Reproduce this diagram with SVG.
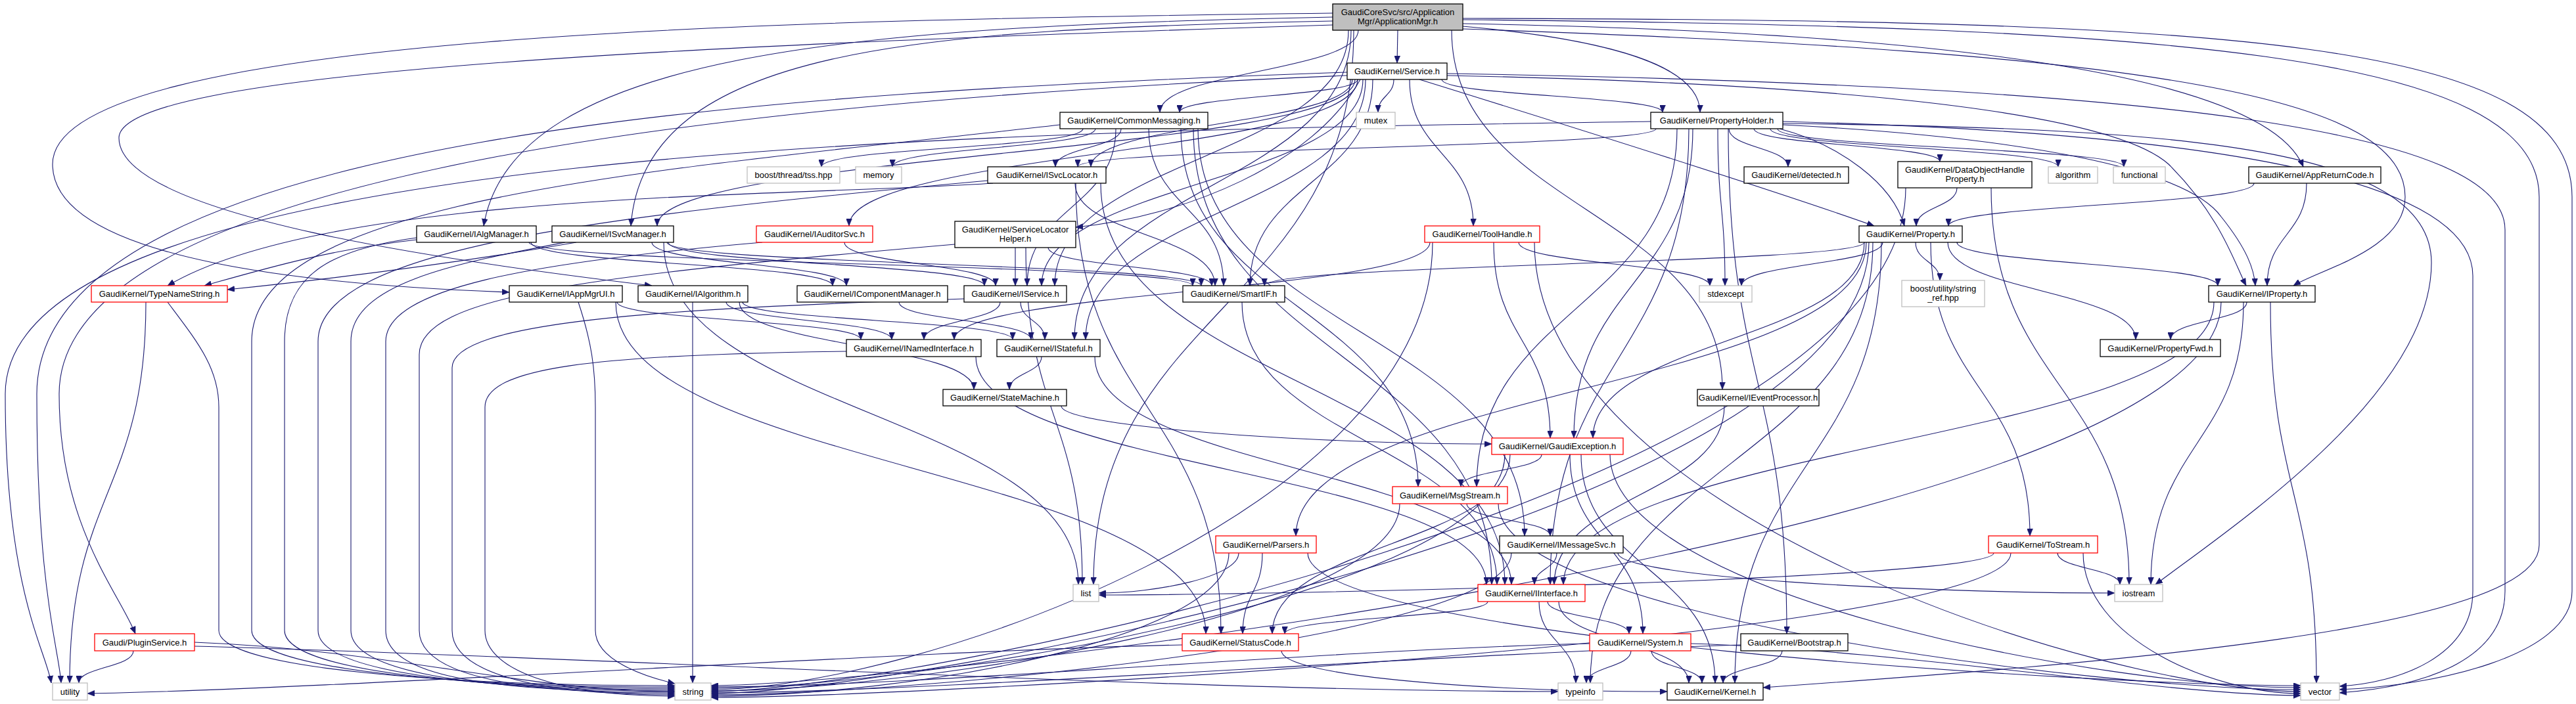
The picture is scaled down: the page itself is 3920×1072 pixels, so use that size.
<svg xmlns="http://www.w3.org/2000/svg" width="3920" height="1072" viewBox="0 0 3920 1072">
<style>
.n rect{fill:#fff;stroke:#000;stroke-width:1.3}
.n.r rect{stroke:#f00}
.n.g rect{stroke:#bfbfbf}
.n.root rect{fill:#bfbfbf}
.n text{font-family:"Liberation Sans",Arial,Helvetica,sans-serif;font-size:13px;text-anchor:middle;fill:#000}
.e path{fill:none;stroke:#191970;stroke-width:1.1;marker-end:url(#a)}
</style>
<defs>
<marker id="a" viewBox="0 0 11 9" refX="11" refY="4.5" markerWidth="11" markerHeight="9" markerUnits="userSpaceOnUse" orient="auto"><path d="M0,0 L11,4.5 L0,9 z" fill="#191970" stroke="#191970" stroke-width="0.5"/></marker>
</defs>
<rect width="3920" height="1072" fill="#fff"/>
<g id="edges" class="e">
<path d="M2127,46 L2126,96"/>
<path d="M2067,46 C2067,108 1765,109 1765,171"/>
<path d="M2226,40 C2450,60 2587,100 2587,171"/>
<path d="M2226,36 C3000,50 3450,120 3505,254"/>
<path d="M2028,26 C1300,40 780,80 736,344"/>
<path d="M2028,32 C1400,45 980,70 960,344"/>
<path d="M2028,20 C1200,30 80,50 80,250 C80,400 500,435 775,445"/>
<path d="M2028,38 C1000,70 181,110 181,210 C181,330 700,400 992,435"/>
<path d="M2052,46 C2052,240 1605,240 1605,435"/>
<path d="M2226,44 C3300,80 3660,150 3660,300 C3660,380 3530,410 3490,435"/>
<path d="M2056,46 C2056,282 1635,282 1635,517"/>
<path d="M2209,46 C2209,320 2621,320 2621,593"/>
<path d="M2060,46 C2060,468 1664,468 1664,890"/>
<path d="M2226,30 C3300,40 3864,80 3864,300 L3864,830 C3864,960 3200,1010 2683,1047"/>
<path d="M2226,28 C3400,30 3914,60 3914,300 L3914,900 C3914,1000 3700,1045 3560,1050"/>
<path d="M2066,121 C2066,146 1795,146 1795,171"/>
<path d="M2121,121 C2121,146 2097,146 2097,171"/>
<path d="M2194,121 C2194,146 2530,146 2530,171"/>
<path d="M2058,121 C2058,188 1660,188 1660,254"/>
<path d="M2062,121 C2062,233 1000,233 1000,344"/>
<path d="M2066,121 C2066,233 1292,233 1292,344"/>
<path d="M2070,121 C2000,250 1800,330 1637,346"/>
<path d="M2145,121 C2145,233 2242,233 2242,344"/>
<path d="M2160,121 C2350,180 2700,290 2852,344"/>
<path d="M2074,121 C2074,278 1585,278 1585,435"/>
<path d="M2089,121 C2089,278 1902,278 1902,435"/>
<path d="M2202,115 C2700,125 3200,160 3300,250 C3380,330 3400,400 3418,435"/>
<path d="M2078,121 C2078,319 1652,319 1652,517"/>
<path d="M2050,115 C1200,150 90,250 90,600 C90,800 180,900 206,965"/>
<path d="M2050,110 C1200,140 56,200 56,600 C56,900 90,990 93,1040"/>
<path d="M2202,112 C3300,130 3812,200 3812,350 L3812,900 C3812,1000 3700,1045 3560,1055"/>
<path d="M1648,196 C1648,225 1250,225 1250,254"/>
<path d="M1667,196 C1667,225 1358,225 1358,254"/>
<path d="M1706,196 C1706,225 1606,225 1606,254"/>
<path d="M1698,196 C1698,316 1563,316 1563,435"/>
<path d="M1748,196 C1748,316 1862,316 1862,435"/>
<path d="M1797,196 C1797,469 2158,469 2158,741"/>
<path d="M1823,196 C1823,506 2320,506 2320,816"/>
<path d="M1816,196 C1816,543 2270,543 2270,890"/>
<path d="M1613,190 C1000,260 383,300 383,520 L383,960 C383,1020 700,1046 1027,1046"/>
<path d="M2520,196 C2520,225 1640,225 1640,254"/>
<path d="M2631,196 C2631,225 2721,225 2721,254"/>
<path d="M2669,196 C2669,221 2952,221 2952,246"/>
<path d="M2694,196 C2694,225 3132,225 3132,254"/>
<path d="M2705,196 C2705,225 3232,225 3232,254"/>
<path d="M2708,196 C2800,220 2880,280 2898,344"/>
<path d="M2614,196 C2614,316 2625,316 2625,435"/>
<path d="M2713,190 C3100,210 3330,260 3380,330 C3420,380 3430,410 3432,435"/>
<path d="M2576,196 C2576,432 2395,432 2395,667"/>
<path d="M2552,196 C2552,469 2247,469 2247,741"/>
<path d="M2570,196 C2570,543 2359,543 2359,890"/>
<path d="M2713,188 C3300,195 3700,220 3700,400 C3700,600 3400,800 3280,890"/>
<path d="M2630,196 C2630,581 2719,581 2719,965"/>
<path d="M2512,185 C1500,200 8,220 8,600 C8,900 70,990 78,1040"/>
<path d="M2713,185 C3300,200 3763,260 3763,420 L3763,900 C3763,1000 3650,1040 3560,1045"/>
<path d="M1511,279 C1200,300 500,290 255,435"/>
<path d="M1636,279 C1636,357 1849,357 1849,435"/>
<path d="M1675,279 C1675,585 2290,585 2290,890"/>
<path d="M1637,279 C1637,622 1858,622 1858,965"/>
<path d="M1503,275 C900,330 484,380 484,520 L484,960 C484,1020 700,1050 1027,1050"/>
<path d="M634,365 C500,380 400,410 311,435"/>
<path d="M808,369 C808,402 1267,402 1267,435"/>
<path d="M805,369 C805,402 1815,402 1815,435"/>
<path d="M634,362 C500,380 433,420 433,520 L433,960 C433,1020 700,1048 1027,1048"/>
<path d="M877,369 C700,400 500,425 346,441"/>
<path d="M992,369 C992,402 1288,402 1288,435"/>
<path d="M1017,369 C1017,402 1498,402 1498,435"/>
<path d="M1015,369 C1015,402 1828,402 1828,435"/>
<path d="M1010,369 C1010,630 1641,630 1641,890"/>
<path d="M860,369 C700,400 534,430 534,520 L534,960 C534,1020 700,1052 1027,1052"/>
<path d="M1285,369 C1285,402 1515,402 1515,435"/>
<path d="M1160,369 C800,400 587,440 587,520 L587,960 C587,1020 700,1054 1027,1054"/>
<path d="M1545,377 L1545,435"/>
<path d="M1595,377 C1595,406 1844,406 1844,435"/>
<path d="M1561,377 C1561,634 1647,634 1647,890"/>
<path d="M1453,372 C900,420 638,450 638,540 L638,960 C638,1020 750,1056 1027,1056"/>
<path d="M2311,369 C2311,402 2602,402 2602,435"/>
<path d="M2176,369 C2176,443 1452,443 1452,517"/>
<path d="M2273,369 C2273,518 2359,518 2359,667"/>
<path d="M2180,369 C2180,778 1382,1050 1082,1050"/>
<path d="M2335,369 C2335,778 3201,1053 3501,1053"/>
<path d="M2837,369 C2837,402 1924,402 1924,435"/>
<path d="M2865,369 C2865,402 2650,402 2650,435"/>
<path d="M2915,369 C2915,398 2952,398 2952,427"/>
<path d="M2978,369 C2978,402 3375,402 3375,435"/>
<path d="M2964,369 C2964,443 3250,443 3250,517"/>
<path d="M2837,369 C2837,518 2424,518 2424,667"/>
<path d="M2840,369 C2840,593 1972,593 1972,816"/>
<path d="M2938,369 C2938,593 3089,593 3089,816"/>
<path d="M2844,369 C2844,781 1382,1056 1082,1056"/>
<path d="M2850,369 C2850,705 2420,705 2420,1040"/>
<path d="M2863,369 C2863,705 2640,705 2640,1040"/>
<path d="M3430,279 C3430,312 2965,312 2965,344"/>
<path d="M3510,279 C3510,357 3450,357 3450,435"/>
<path d="M2978,286 C2978,315 2916,315 2916,344"/>
<path d="M3030,286 C3030,588 3240,588 3240,890"/>
<path d="M2900,286 C2900,746 1382,1053 1082,1053"/>
<path d="M222,460 C222,750 106,750 106,1040"/>
<path d="M255,460 C300,520 333,560 333,620 L333,960 C333,1020 700,1044 1027,1044"/>
<path d="M939,460 C939,488 1310,488 1310,517"/>
<path d="M937,460 C937,712 1835,712 1835,965"/>
<path d="M880,460 C900,520 906,560 906,620 L906,960 C906,1005 980,1030 1027,1041"/>
<path d="M1105,460 C1105,488 1357,488 1357,517"/>
<path d="M1130,460 C1130,488 1541,488 1541,517"/>
<path d="M1125,460 C1125,526 1482,526 1482,593"/>
<path d="M1054,460 L1054,1040"/>
<path d="M1368,460 C1368,488 1569,488 1569,517"/>
<path d="M1522,460 C1522,488 1406,488 1406,517"/>
<path d="M1553,460 C1553,488 1590,488 1590,517"/>
<path d="M1467,455 C1000,470 688,490 688,560 L688,960 C688,1020 800,1058 1027,1058"/>
<path d="M1890,460 C1890,675 2278,675 2278,890"/>
<path d="M3419,460 C3419,488 3303,488 3303,517"/>
<path d="M3369,460 C3369,675 2379,675 2379,890"/>
<path d="M3414,460 C3414,675 3273,675 3273,890"/>
<path d="M3380,460 C3380,810 1382,1044 1082,1044"/>
<path d="M3455,460 C3455,750 3525,750 3525,1040"/>
<path d="M1485,543 C1485,716 2262,716 2262,890"/>
<path d="M1288,535 C900,540 738,560 738,620 L738,960 C738,1020 850,1060 1027,1060"/>
<path d="M1585,543 C1585,568 1536,568 1536,593"/>
<path d="M1666,543 C1666,716 2300,716 2300,890"/>
<path d="M1615,618 C1615,650 2000,676 2270,676"/>
<path d="M2624,618 C2624,754 2365,754 2365,890"/>
<path d="M2346,692 C2346,716 2223,716 2223,741"/>
<path d="M2298,692 C2298,828 1936,828 1936,965"/>
<path d="M2389,692 C2389,828 2500,828 2500,965"/>
<path d="M2406,692 C2406,866 2610,866 2610,1040"/>
<path d="M2290,692 C2290,906 1382,1048 1082,1048"/>
<path d="M2450,692 C2450,906 3201,1047 3501,1047"/>
<path d="M2232,767 C2232,792 2359,792 2359,816"/>
<path d="M2130,767 C2130,938 1382,1052 1082,1052"/>
<path d="M2280,767 C2280,938 3201,1050 3501,1050"/>
<path d="M1885,842 C1885,879 1757,903 1672,903"/>
<path d="M1921,842 C1921,903 1891,903 1891,965"/>
<path d="M1870,842 C1870,973 1382,1060 1082,1060"/>
<path d="M1990,842 C1990,973 3201,1044 3501,1044"/>
<path d="M2369,842 C2369,866 2335,866 2335,890"/>
<path d="M2300,842 C2300,972 1382,1058 1082,1058"/>
<path d="M2462,842 C2462,879 2918,903 3218,903"/>
<path d="M3034,842 C3034,881 1972,906 1672,906"/>
<path d="M3131,842 C3131,866 3226,866 3226,890"/>
<path d="M3060,842 C3060,972 1382,1062 1082,1062"/>
<path d="M3170,842 C3170,972 3369,1056 3501,1056"/>
<path d="M2264,916 C2264,940 1955,940 1955,965"/>
<path d="M2355,916 C2355,940 2479,940 2479,965"/>
<path d="M2342,916 C2342,978 2398,978 2398,1040"/>
<path d="M2372,916 C2372,978 2570,978 2570,1040"/>
<path d="M1799,982 C1400,990 500,1050 133,1056"/>
<path d="M1950,991 C1950,1028 2237,1053 2537,1053"/>
<path d="M2482,991 C2482,1016 2414,1016 2414,1040"/>
<path d="M2513,991 C2513,1016 2590,1016 2590,1040"/>
<path d="M2419,980 C2000,990 1400,1046 1082,1046"/>
<path d="M2573,980 C2900,990 3300,1059 3501,1059"/>
<path d="M2712,991 C2712,1016 2622,1016 2622,1040"/>
<path d="M2649,982 C2200,995 1400,1055 1082,1055"/>
<path d="M203,991 C203,1016 120,1016 120,1040"/>
<path d="M296,978 C600,990 800,1053 1027,1053"/>
<path d="M296,984 C900,1000 1800,1053 2371,1053"/>
</g>
<g id="node-root" class="n root"><rect x="2028" y="6" width="198" height="40"/><text x="2127" y="23">GaudiCoreSvc/src/Application</text><text x="2127" y="37">Mgr/ApplicationMgr.h</text></g>
<g id="node-service" class="n"><rect x="2050" y="96" width="152" height="25"/><text x="2126" y="113">GaudiKernel/Service.h</text></g>
<g id="node-commonmessaging" class="n"><rect x="1613" y="171" width="225" height="25"/><text x="1725.5" y="188">GaudiKernel/CommonMessaging.h</text></g>
<g id="node-mutex" class="n g"><rect x="2064" y="171" width="59" height="25"/><text x="2093.5" y="188">mutex</text></g>
<g id="node-propertyholder" class="n"><rect x="2512" y="171" width="201" height="25"/><text x="2612.5" y="188">GaudiKernel/PropertyHolder.h</text></g>
<g id="node-tss" class="n g"><rect x="1137" y="254" width="141" height="25"/><text x="1207.5" y="271">boost/thread/tss.hpp</text></g>
<g id="node-memory" class="n g"><rect x="1302" y="254" width="70" height="25"/><text x="1337" y="271">memory</text></g>
<g id="node-isvclocator" class="n"><rect x="1503" y="254" width="180" height="25"/><text x="1593" y="271">GaudiKernel/ISvcLocator.h</text></g>
<g id="node-detected" class="n"><rect x="2654" y="254" width="159" height="25"/><text x="2733.5" y="271">GaudiKernel/detected.h</text></g>
<g id="node-dohp" class="n"><rect x="2888" y="246" width="204" height="40"/><text x="2990" y="263">GaudiKernel/DataObjectHandle</text><text x="2990" y="277">Property.h</text></g>
<g id="node-algorithm" class="n g"><rect x="3117" y="254" width="75" height="25"/><text x="3154.5" y="271">algorithm</text></g>
<g id="node-functional" class="n g"><rect x="3216" y="254" width="79" height="25"/><text x="3255.5" y="271">functional</text></g>
<g id="node-appreturncode" class="n"><rect x="3422" y="254" width="201" height="25"/><text x="3522.5" y="271">GaudiKernel/AppReturnCode.h</text></g>
<g id="node-ialgmanager" class="n"><rect x="634" y="344" width="182" height="25"/><text x="725" y="361">GaudiKernel/IAlgManager.h</text></g>
<g id="node-isvcmanager" class="n"><rect x="840" y="344" width="185" height="25"/><text x="932.5" y="361">GaudiKernel/ISvcManager.h</text></g>
<g id="node-iauditorsvc" class="n r"><rect x="1151" y="344" width="177" height="25"/><text x="1239.5" y="361">GaudiKernel/IAuditorSvc.h</text></g>
<g id="node-servicelocatorhelper" class="n"><rect x="1453" y="337" width="184" height="40"/><text x="1545" y="354">GaudiKernel/ServiceLocator</text><text x="1545" y="368">Helper.h</text></g>
<g id="node-toolhandle" class="n r"><rect x="2168" y="344" width="175" height="25"/><text x="2255.5" y="361">GaudiKernel/ToolHandle.h</text></g>
<g id="node-property" class="n"><rect x="2829" y="344" width="157" height="25"/><text x="2907.5" y="361">GaudiKernel/Property.h</text></g>
<g id="node-typenamestring" class="n r"><rect x="139" y="435" width="207" height="25"/><text x="242.5" y="452">GaudiKernel/TypeNameString.h</text></g>
<g id="node-iappmgrui" class="n"><rect x="775" y="435" width="172" height="25"/><text x="861" y="452">GaudiKernel/IAppMgrUI.h</text></g>
<g id="node-ialgorithm" class="n"><rect x="971" y="435" width="167" height="25"/><text x="1054.5" y="452">GaudiKernel/IAlgorithm.h</text></g>
<g id="node-icomponentmanager" class="n"><rect x="1213" y="435" width="229" height="25"/><text x="1327.5" y="452">GaudiKernel/IComponentManager.h</text></g>
<g id="node-iservice" class="n"><rect x="1467" y="435" width="156" height="25"/><text x="1545" y="452">GaudiKernel/IService.h</text></g>
<g id="node-smartif" class="n"><rect x="1800" y="435" width="155" height="25"/><text x="1877.5" y="452">GaudiKernel/SmartIF.h</text></g>
<g id="node-stdexcept" class="n g"><rect x="2586" y="435" width="80" height="25"/><text x="2626" y="452">stdexcept</text></g>
<g id="node-stringref" class="n g"><rect x="2894" y="427" width="126" height="40"/><text x="2957" y="444">boost/utility/string</text><text x="2957" y="458">_ref.hpp</text></g>
<g id="node-iproperty" class="n"><rect x="3361" y="435" width="162" height="25"/><text x="3442" y="452">GaudiKernel/IProperty.h</text></g>
<g id="node-inamedinterface" class="n"><rect x="1288" y="517" width="205" height="26"/><text x="1390.5" y="535">GaudiKernel/INamedInterface.h</text></g>
<g id="node-istateful" class="n"><rect x="1517" y="517" width="157" height="26"/><text x="1595.5" y="535">GaudiKernel/IStateful.h</text></g>
<g id="node-propertyfwd" class="n"><rect x="3196" y="517" width="183" height="26"/><text x="3287.5" y="535">GaudiKernel/PropertyFwd.h</text></g>
<g id="node-statemachine" class="n"><rect x="1435" y="593" width="188" height="25"/><text x="1529" y="610">GaudiKernel/StateMachine.h</text></g>
<g id="node-ieventprocessor" class="n"><rect x="2583" y="593" width="185" height="25"/><text x="2675.5" y="610">GaudiKernel/IEventProcessor.h</text></g>
<g id="node-gaudiexception" class="n r"><rect x="2270" y="667" width="200" height="25"/><text x="2370" y="684">GaudiKernel/GaudiException.h</text></g>
<g id="node-msgstream" class="n r"><rect x="2119" y="741" width="175" height="26"/><text x="2206.5" y="759">GaudiKernel/MsgStream.h</text></g>
<g id="node-parsers" class="n r"><rect x="1850" y="816" width="153" height="26"/><text x="1926.5" y="834">GaudiKernel/Parsers.h</text></g>
<g id="node-imessagesvc" class="n"><rect x="2282" y="816" width="188" height="26"/><text x="2376" y="834">GaudiKernel/IMessageSvc.h</text></g>
<g id="node-tostream" class="n r"><rect x="3026" y="816" width="166" height="26"/><text x="3109" y="834">GaudiKernel/ToStream.h</text></g>
<g id="node-list" class="n g"><rect x="1633" y="890" width="39" height="26"/><text x="1652.5" y="908">list</text></g>
<g id="node-iinterface" class="n r"><rect x="2249" y="890" width="163" height="26"/><text x="2330.5" y="908">GaudiKernel/IInterface.h</text></g>
<g id="node-iostream" class="n g"><rect x="3218" y="890" width="73" height="26"/><text x="3254.5" y="908">iostream</text></g>
<g id="node-pluginservice" class="n r"><rect x="144" y="965" width="152" height="26"/><text x="220" y="983">Gaudi/PluginService.h</text></g>
<g id="node-statuscode" class="n r"><rect x="1799" y="965" width="177" height="26"/><text x="1887.5" y="983">GaudiKernel/StatusCode.h</text></g>
<g id="node-system" class="n r"><rect x="2419" y="965" width="154" height="26"/><text x="2496" y="983">GaudiKernel/System.h</text></g>
<g id="node-bootstrap" class="n"><rect x="2649" y="965" width="163" height="26"/><text x="2730.5" y="983">GaudiKernel/Bootstrap.h</text></g>
<g id="node-utility" class="n g"><rect x="80" y="1040" width="53" height="26"/><text x="106.5" y="1058">utility</text></g>
<g id="node-string" class="n g"><rect x="1027" y="1040" width="55" height="26"/><text x="1054.5" y="1058">string</text></g>
<g id="node-typeinfo" class="n g"><rect x="2371" y="1040" width="68" height="26"/><text x="2405" y="1058">typeinfo</text></g>
<g id="node-kernel" class="n"><rect x="2537" y="1040" width="146" height="26"/><text x="2610" y="1058">GaudiKernel/Kernel.h</text></g>
<g id="node-vector" class="n g"><rect x="3501" y="1040" width="59" height="26"/><text x="3530.5" y="1058">vector</text></g>
</svg>
